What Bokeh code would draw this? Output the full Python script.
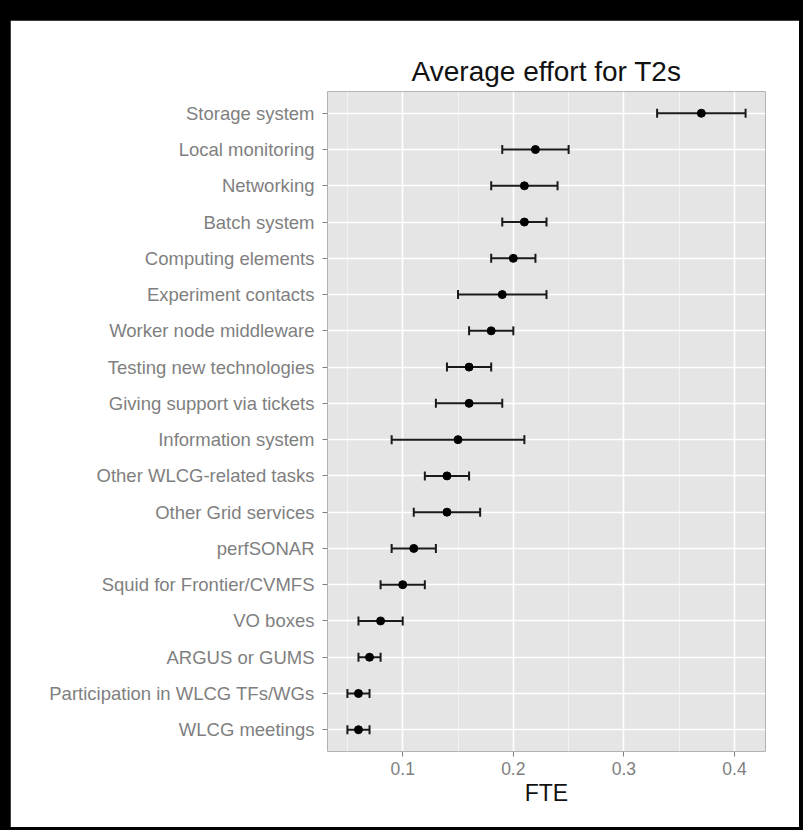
from bokeh.plotting import figure
from bokeh.models import ColumnDataSource, FactorRange, Range1d, FixedTicker, Whisker, TeeHead
from bokeh.layouts import column
from bokeh.embed import file_html
from bokeh.resources import INLINE

categories = ["Storage system", "Local monitoring", "Networking", "Batch system",
              "Computing elements", "Experiment contacts", "Worker node middleware",
              "Testing new technologies", "Giving support via tickets", "Information system",
              "Other WLCG-related tasks", "Other Grid services", "perfSONAR",
              "Squid for Frontier/CVMFS", "VO boxes", "ARGUS or GUMS",
              "Participation in WLCG TFs/WGs", "WLCG meetings"]
mean_fte = [0.37, 0.22, 0.21, 0.21, 0.20, 0.19, 0.18, 0.16, 0.16, 0.15,
            0.14, 0.14, 0.11, 0.10, 0.08, 0.07, 0.06, 0.06]
lower_fte = [0.33, 0.19, 0.18, 0.19, 0.18, 0.15, 0.16, 0.14, 0.13, 0.09,
             0.12, 0.11, 0.09, 0.08, 0.06, 0.06, 0.05, 0.05]
upper_fte = [0.41, 0.25, 0.24, 0.23, 0.22, 0.23, 0.20, 0.18, 0.19, 0.21,
             0.16, 0.17, 0.13, 0.12, 0.10, 0.08, 0.07, 0.07]
x_ticks = [0.1, 0.2, 0.3, 0.4]
x_minor = [0.05, 0.15, 0.25, 0.35]

FONT = "Liberation Sans"

src = ColumnDataSource(dict(cat=categories, mean=mean_fte, lo=lower_fte, hi=upper_fte))

yr = FactorRange(factors=list(reversed(categories)), range_padding=0.1,
                 range_padding_units="absolute")
p = figure(width=789, height=807, y_range=yr, x_range=Range1d(0.032, 0.428),
           output_backend="svg", toolbar_location=None,
           min_border_left=317, min_border_right=34, min_border_top=71, min_border_bottom=76,
           background_fill_color="#E5E5E5", border_fill_color="white", outline_line_color=None)

p.title.text = "Average effort for T2s"
p.title.align = "center"
p.title.text_font = FONT
p.title.text_font_size = "28px"
p.title.text_font_style = "normal"
p.title.text_color = "#111111"

p.xaxis.ticker = FixedTicker(ticks=x_ticks, minor_ticks=x_minor)
p.xaxis.axis_label = "FTE"
p.xaxis.axis_label_text_font = FONT
p.xaxis.axis_label_text_font_size = "23px"
p.xaxis.axis_label_text_font_style = "normal"
p.xaxis.axis_label_text_color = "#111111"
p.xaxis.axis_label_standoff = 2

for ax in (p.xaxis[0], p.yaxis[0]):
    ax.axis_line_color = None
    ax.major_tick_line_color = "#7F7F7F"
    ax.major_tick_out = 5
    ax.major_tick_in = 0
    ax.minor_tick_line_color = None
    ax.major_label_text_font = FONT
    ax.major_label_text_color = "#7F7F7F"
p.xaxis.major_label_standoff = 5
p.yaxis.major_label_standoff = 8
p.xaxis.major_label_text_font_size = "17.5px"
p.yaxis.major_label_text_font_size = "18.5px"

p.xgrid.grid_line_color = "white"
p.xgrid.grid_line_width = 1.6
p.xgrid.minor_grid_line_color = "#F2F2F2"
p.xgrid.minor_grid_line_width = 1
p.ygrid.grid_line_color = "white"
p.ygrid.grid_line_width = 1.6

whisk = Whisker(base="cat", lower="lo", upper="hi", source=src, dimension="width",
                line_color="#1a1a1a", line_width=2,
                upper_head=TeeHead(size=9, line_color="#1a1a1a", line_width=2),
                lower_head=TeeHead(size=9, line_color="#1a1a1a", line_width=2))
p.add_layout(whisk)
p.scatter("mean", "cat", source=src, size=8, color="black")

layout = column(p, styles={"background-color": "black", "padding": "20px 4px 3px 10px"})

open("out.html", "w").write(file_html(layout, INLINE))
